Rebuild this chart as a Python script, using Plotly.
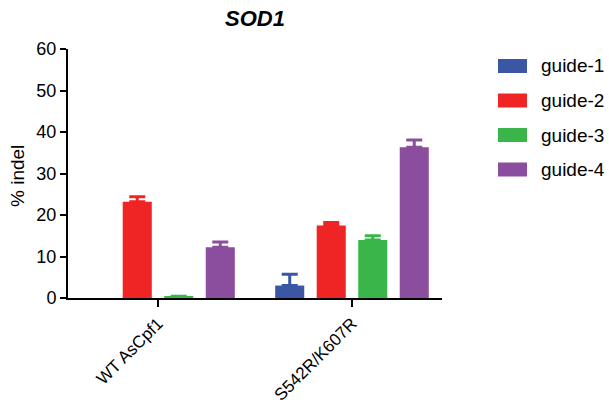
import plotly.graph_objects as go

categories = ["WT AsCpf1", "S542R/K607R"]
guides = ["guide-1", "guide-2", "guide-3", "guide-4"]
colors = ["#3A56A5", "#EE2524", "#39B54A", "#8B4D9D"]
values = {
    "guide-1": [None, 3.0],
    "guide-2": [23.2, 17.5],
    "guide-3": [0.3, 14.0],
    "guide-4": [12.2, 36.3],
}
err_top = {
    "guide-1": [None, 5.7],
    "guide-2": [24.4, 18.2],
    "guide-3": [0.4, 15.0],
    "guide-4": [13.5, 38.1],
}
y_ticks = [0, 10, 20, 30, 40, 50, 60]

W, H = 609, 408
L, R, T, B = 68, 167, 49, 110
FONT = "Liberation Sans, Arial, Helvetica, sans-serif"

fig = go.Figure()
for g, c in zip(guides, colors):
    v = values[g]
    e = [(t - y) if (t is not None and y is not None) else None for t, y in zip(err_top[g], v)]
    fig.add_trace(go.Bar(
        x=categories, y=v, name=g, marker=dict(color=c, line=dict(width=0)),
        error_y=dict(type="data", array=e, arrayminus=[0, 0], symmetric=False,
                     color=c, thickness=3, width=8),
        showlegend=False,
    ))

pw = W - L - R
ph = H - T - B
def px_x(p):
    return (p - L) / pw
def px_y(p):
    return (H - B - p) / ph

shapes = []
annotations = []
leg_y = [66, 100.5, 135, 169.5]
for g, c, yy in zip(guides, colors, leg_y):
    shapes.append(dict(type="rect", xref="paper", yref="paper",
                       x0=px_x(498), x1=px_x(527), y0=px_y(yy + 7), y1=px_y(yy - 7),
                       fillcolor=c, line=dict(width=0)))
    annotations.append(dict(text=g, xref="paper", yref="paper", x=px_x(539), y=px_y(yy),
                            xanchor="left", yanchor="middle", showarrow=False,
                            font=dict(family=FONT, size=19, color="black")))

annotations.append(dict(text="% indel", xref="paper", yref="paper", x=px_x(17), y=px_y(176),
                        xanchor="center", yanchor="middle", textangle=-90, showarrow=False,
                        font=dict(family=FONT, size=19, color="black")))

fig.update_layout(
    width=W, height=H,
    margin=dict(l=L, r=R, t=T, b=B, autoexpand=False),
    paper_bgcolor="white", plot_bgcolor="white",
    barmode="group", bargap=0.144, bargroupgap=0.30,
    title=dict(text="<b><i>SOD1</i></b>", x=0.5, xref="paper", xanchor="center",
               y=1 - 18.5 / H, yanchor="middle",
               font=dict(family=FONT, size=22, color="black")),
    xaxis=dict(range=[-0.464, 1.464], showgrid=False, zeroline=False, automargin=False,
               showline=True, linecolor="black", linewidth=2,
               ticks="outside", ticklen=7, tickwidth=2, tickcolor="black",
               tickangle=-45, tickfont=dict(family=FONT, size=17, color="black")),
    yaxis=dict(range=[0, 60], tickvals=y_ticks, showgrid=False, zeroline=False, automargin=False,
               showline=True, linecolor="black", linewidth=2,
               ticks="outside", ticklen=6, tickwidth=2, tickcolor="black",
               tickfont=dict(family=FONT, size=18, color="black")),
    shapes=shapes, annotations=annotations,
)

fig.write_html("out.html", config={"displayModeBar": False},
               post_script="document.body.style.margin='0';document.body.style.overflow='hidden';")
